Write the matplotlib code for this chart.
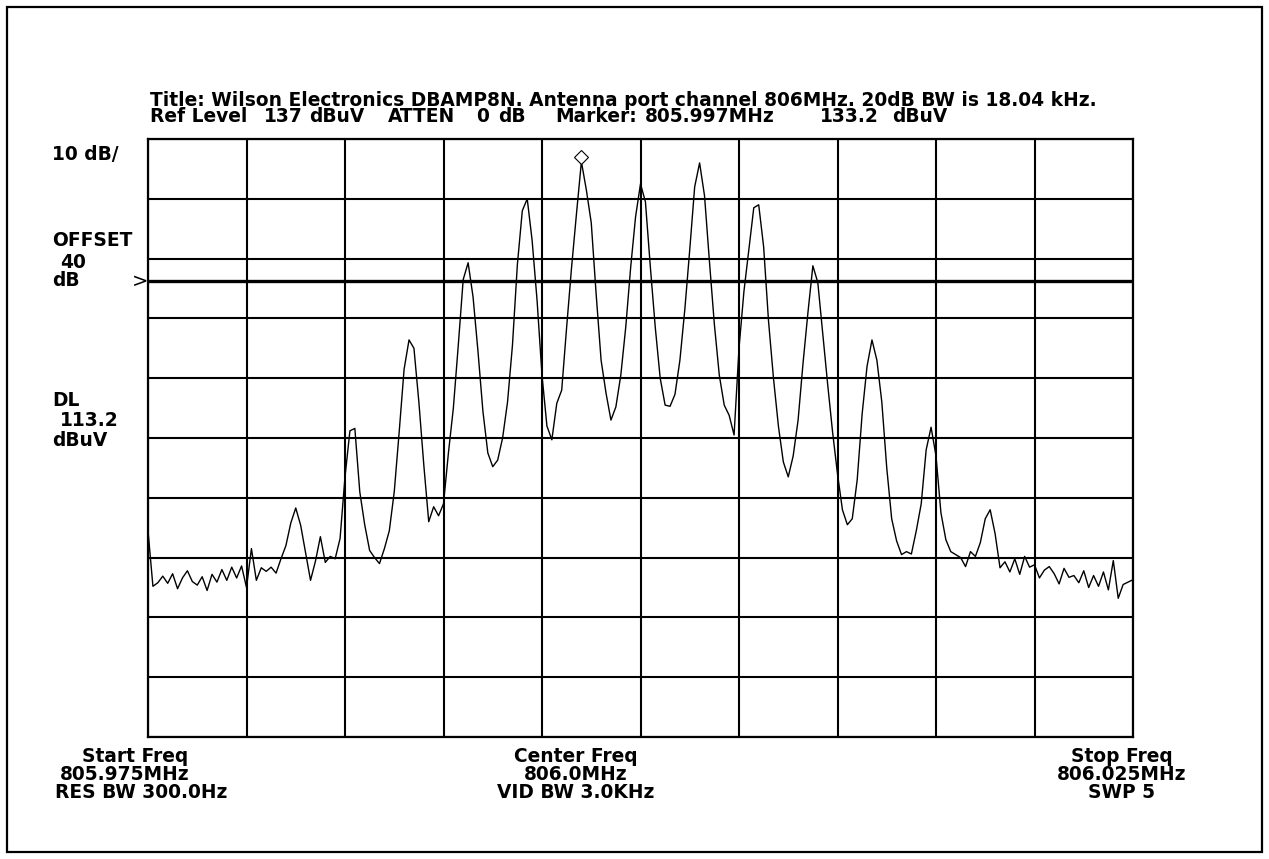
import matplotlib

matplotlib.use("Agg")

import matplotlib.pyplot as plt
import numpy as np
from matplotlib.patches import Rectangle
from matplotlib.transforms import offset_copy

"""
Spectrum analyzer screen capture: antenna port channel at 806 MHz.
Trace levels are in dBuV, one value per sweep point from start to stop.
"""

FIG_W, FIG_H = 1269, 859

START_MHZ = 805.975
STOP_MHZ = 806.025
REF_LEVEL = 137.0
DB_PER_DIV = 10.0
N_DIV = 10
DISPLAY_LINE = 113.2
MARKER_MHZ = 805.997
MARKER_DBUV = 133.2

TRACE_DBUV = [
    71.5, 62.2, 62.8, 63.9, 62.7, 64.3, 61.8, 63.6, 64.8, 63.0,
    62.4, 63.8, 61.5, 64.2, 62.9, 65.0, 63.2, 65.4, 63.6, 65.6,
    62.0, 68.5, 63.2, 65.3, 64.7, 65.4, 64.4, 66.8, 69.0, 72.8,
    75.3, 72.4, 67.8, 63.2, 66.4, 70.5, 66.2, 67.2, 66.8, 70.2,
    80.5, 88.2, 88.6, 78.0, 72.5, 68.2, 67.0, 66.0, 68.5, 71.5,
    78.0, 88.0, 98.5, 103.4, 102.0, 93.0, 82.5, 73.0, 75.5, 74.0,
    76.0, 84.5, 92.0, 102.5, 113.5, 116.3, 110.6, 101.5, 91.5, 84.5,
    82.2, 83.3, 87.0, 93.0, 102.5, 116.0, 125.0, 127.0, 120.0, 110.0,
    97.5, 89.0, 86.7, 92.8, 95.0, 105.5, 115.5, 124.5, 133.2, 128.5,
    123.0, 111.0, 100.0, 94.5, 90.0, 92.2, 97.5, 105.5, 115.5, 124.0,
    129.5, 126.5, 115.6, 105.5, 97.0, 92.5, 92.3, 94.3, 100.0, 108.5,
    118.5, 129.0, 133.0, 127.5, 116.5, 106.0, 97.5, 92.5, 90.8, 87.5,
    102.0, 111.5, 118.5, 125.5, 126.0, 119.0, 106.5, 97.0, 89.0, 83.0,
    80.5, 84.0, 90.0, 99.5, 108.0, 115.8, 113.0, 104.5, 96.0, 88.0,
    81.0, 75.0, 72.5, 73.5, 80.0, 91.0, 99.0, 103.4, 100.0, 93.0,
    82.0, 73.5, 69.8, 67.5, 68.0, 67.6, 71.5, 76.0, 85.0, 88.8,
    84.0, 74.5, 70.0, 68.0, 67.5, 67.0, 65.5, 68.0, 67.2, 69.5,
    73.5, 75.0, 71.0, 65.3, 66.3, 64.6, 66.8, 64.2, 67.2, 65.4,
    65.8, 63.6, 64.9, 65.5, 64.3, 62.6, 65.2, 63.7, 64.0, 62.8,
    64.8, 62.0, 64.0, 62.2, 64.6, 61.6, 66.5, 60.2, 62.5, 62.9,
    63.3,
]

TITLE = "Title: Wilson Electronics DBAMP8N. Antenna port channel 806MHz. 20dB BW is 18.04 kHz."
STATUS_FIELDS = [
    (150, "Ref Level"),
    (264, "137"),
    (309, "dBuV"),
    (388, "ATTEN"),
    (476, "0"),
    (498, "dB"),
    (555, "Marker:"),
    (645, "805.997MHz"),
    (820, "133.2"),
    (892, "dBuV"),
]
SIDE_LABELS = [
    (52, 155, "10 dB/"),
    (52, 241, "OFFSET"),
    (60, 262, "40"),
    (52, 281, "dB"),
    (52, 401, "DL"),
    (60, 420, "113.2"),
    (52, 440, "dBuV"),
]
START_LINES = [(82, "Start Freq"), (60, "805.975MHz"), (55, "RES BW 300.0Hz")]
CENTER_LINES = ["Center Freq", "806.0MHz", "VID BW 3.0KHz"]
STOP_LINES = ["Stop Freq", "806.025MHz", "SWP 5"]

FONT = dict(family="DejaVu Sans", weight="bold", size=13.4)


def fig_xy(x_px: float, y_px: float) -> tuple[float, float]:
    """Convert pixel position (origin top-left) to figure fraction."""
    return x_px / FIG_W, 1 - y_px / FIG_H


def draw_screen_text(fig: plt.Figure) -> None:
    """Header, side annotations and footer of the analyzer screen."""
    fig.text(*fig_xy(150, 100), TITLE, va="center", ha="left", **FONT)
    for x, text in STATUS_FIELDS:
        fig.text(*fig_xy(x, 117), text, va="center", ha="left", **FONT)

    for x, y, text in SIDE_LABELS:
        fig.text(*fig_xy(x, y), text, va="center", ha="left", **FONT)

    footer_rows = [757, 775, 793]
    for (x, text), y in zip(START_LINES, footer_rows):
        fig.text(*fig_xy(x, y), text, va="center", ha="left", **FONT)
    for text, y in zip(CENTER_LINES, footer_rows):
        fig.text(*fig_xy(576, y), text, va="center", ha="center", **FONT)
    for text, y in zip(STOP_LINES, footer_rows):
        fig.text(*fig_xy(1122, y), text, va="center", ha="center", **FONT)


def main() -> None:
    fig = plt.figure(figsize=(FIG_W / 100, FIG_H / 100), dpi=100)
    fig.patch.set_facecolor("white")

    # outer frame around the whole capture
    fig.patches.append(
        Rectangle(
            fig_xy(7, 852), 1255 / FIG_W, 845 / FIG_H,
            transform=fig.transFigure, fill=False, edgecolor="black", linewidth=1.6,
        )
    )

    left, right = 148 / FIG_W, 1133 / FIG_W
    bottom, top = 1 - 737 / FIG_H, 1 - 139 / FIG_H
    ax = fig.add_axes([left, bottom, right - left, top - bottom])

    bottom_level = REF_LEVEL - N_DIV * DB_PER_DIV
    ax.set_xlim(START_MHZ, STOP_MHZ)
    ax.set_ylim(bottom_level, REF_LEVEL)
    ax.set_xticks(np.linspace(START_MHZ, STOP_MHZ, N_DIV + 1))
    ax.set_yticks(np.arange(bottom_level, REF_LEVEL + 0.1, DB_PER_DIV))
    ax.tick_params(length=0, labelbottom=False, labelleft=False)
    ax.grid(True, color="black", linewidth=1.5)
    ax.set_axisbelow(True)
    for spine in ax.spines.values():
        spine.set_linewidth(1.6)

    freqs = np.linspace(START_MHZ, STOP_MHZ, len(TRACE_DBUV))
    ax.plot(freqs, TRACE_DBUV, color="black", linewidth=1.0)

    # display line with its pointer at the left edge
    ax.axhline(DISPLAY_LINE, color="black", linewidth=2.4)
    ax.text(0, DISPLAY_LINE, ">", transform=ax.get_yaxis_transform(),
            ha="right", va="center", fontsize=14, family="DejaVu Sans",
            clip_on=False)

    # marker diamond sitting on top of the peak
    marker_tr = offset_copy(ax.transData, fig=fig, x=0, y=5, units="dots")
    ax.plot(MARKER_MHZ, MARKER_DBUV, marker="D", markersize=7,
            markerfacecolor="white", markeredgecolor="black",
            markeredgewidth=0.8, transform=marker_tr, clip_on=False)

    draw_screen_text(fig)

    fig.savefig("out.png", dpi=100)
    plt.close(fig)


if __name__ == "__main__":
    main()
